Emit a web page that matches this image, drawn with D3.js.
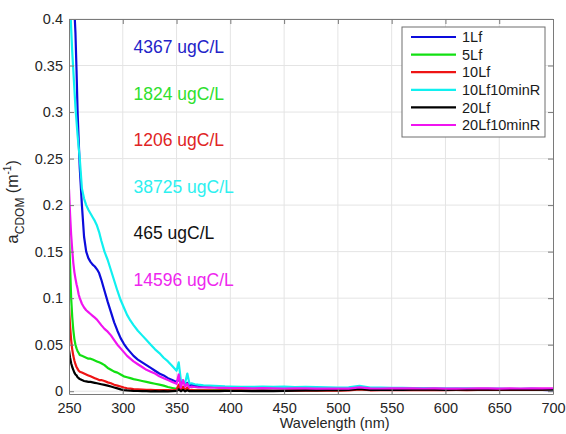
<!DOCTYPE html>
<html>
<head>
<meta charset="utf-8">
<script src="https://cdnjs.cloudflare.com/ajax/libs/d3/7.8.5/d3.min.js"></script>
<style>
body { margin: 0; background: #fff; }
text { font-family: "Liberation Sans", Arial, sans-serif; }
</style>
</head>
<body>
<div id="vis"></div>
<script>
// wavelength grid (nm), shared by every series
var wavelength = [250,251,252,253,254,255,256,257,258,259,260,
    262,264,266,268,270,272,274,276,278,280,
    283,286,289,292,295,298,301,304,307,310,
    314,318,322,326,330,334,338,342,346,
    350,352,354,356,358,360,362,364,
    367,370,375,380,385,390,395,400,
    410,420,430,440,450,460,470,480,490,500,
    510,520,530,540,550,560,570,580,590,600,
    610,620,630,640,650,660,670,680,690,700];

// a_CDOM (1/m)
var a1Lf = [0.62,0.56,0.51,0.47,0.43,0.41,0.385,0.345,0.30,0.27,0.24,
    0.20,0.166,0.150,0.143,0.139,0.136,0.134,0.131,0.127,0.120,
    0.108,0.096,0.085,0.074,0.065,0.057,0.051,0.046,0.042,0.038,
    0.034,0.031,0.028,0.025,0.022,0.019,0.017,0.014,0.012,
    0.010,0.013,0.008,0.011,0.007,0.009,0.0068,0.0065,
    0.006,0.0055,0.005,0.0047,0.0045,0.0043,0.0041,0.004,
    0.0038,0.0036,0.0037,0.0034,0.0035,0.0033,0.0034,0.0031,0.0032,0.0030,
    0.0031,0.0045,0.0030,0.0029,0.0031,0.0028,0.0027,0.0029,0.0026,0.0024,
    0.0025,0.0023,0.0024,0.0022,0.0023,0.0021,0.0020,0.0019,0.0015,0.0008];

var a5Lf = [0.170,0.135,0.100,0.080,0.066,0.056,0.050,0.046,0.043,0.041,0.039,
    0.038,0.037,0.036,0.035,0.035,0.034,0.033,0.032,0.031,0.030,
    0.028,0.025,0.023,0.021,0.020,0.018,0.016,0.015,0.014,0.013,
    0.012,0.011,0.010,0.009,0.008,0.007,0.006,0.0045,0.0035,
    0.0025,0.004,0.0015,0.003,0.0012,0.002,0.0011,0.0012,
    0.0012,0.0011,0.0012,0.0010,0.0011,0.0012,0.0010,0.0011,
    0.0012,0.0010,0.0011,0.0009,0.0010,0.0012,0.0011,0.0010,0.0012,0.0011,
    0.0013,0.0025,0.0014,0.0013,0.0015,0.0014,0.0016,0.0015,0.0014,0.0013,
    0.0015,0.0016,0.0014,0.0015,0.0017,0.0016,0.0015,0.0017,0.0016,0.0018];

var a10Lf = [0.090,0.070,0.055,0.045,0.038,0.033,0.029,0.026,0.024,0.022,0.021,
    0.020,0.019,0.018,0.017,0.016,0.015,0.014,0.013,0.012,0.012,
    0.011,0.0095,0.0085,0.007,0.006,0.005,0.004,0.0032,0.0028,0.0022,
    0.002,0.0018,0.0015,0.0014,0.0012,0.0013,0.0011,0.0012,0.0010,
    0.0015,0.007,0.001,0.005,0.0012,0.004,0.0008,0.0015,
    0.001,0.0009,0.0008,0.0009,0.0007,0.0008,0.0007,0.0008,
    0.0008,0.0006,0.0007,0.0005,0.0006,0.0008,0.0007,0.0006,0.0008,0.0007,
    0.0009,0.0020,0.0010,0.0011,0.0012,0.0011,0.0013,0.0012,0.0011,0.0012,
    0.0013,0.0012,0.0014,0.0013,0.0015,0.0014,0.0016,0.0015,0.0017,0.0018];

var a10Lf10minR = [0.46,0.42,0.39,0.365,0.345,0.325,0.305,0.29,0.275,0.262,0.25,
    0.218,0.207,0.200,0.195,0.191,0.187,0.183,0.178,0.171,0.162,
    0.150,0.141,0.130,0.119,0.108,0.098,0.090,0.082,0.076,0.071,
    0.065,0.060,0.055,0.050,0.045,0.041,0.036,0.032,0.027,
    0.022,0.031,0.012,0.011,0.009,0.019,0.008,0.0085,
    0.0075,0.007,0.0063,0.006,0.0058,0.0056,0.0052,0.005,
    0.0048,0.0046,0.0050,0.0047,0.0049,0.0045,0.0046,0.0043,0.0042,0.0040,
    0.0041,0.0058,0.0040,0.0038,0.0036,0.0035,0.0034,0.0033,0.0032,0.0030,
    0.0029,0.0030,0.0028,0.0027,0.0029,0.0026,0.0025,0.0027,0.0024,0.0020];

var a20Lf = [0.044,0.036,0.030,0.026,0.023,0.020,0.018,0.017,0.015,0.014,0.013,
    0.012,0.011,0.0105,0.010,0.010,0.0095,0.009,0.0085,0.008,0.0075,
    0.0068,0.006,0.005,0.004,0.003,0.002,0.0012,0.0008,0.0005,0.0003,
    0.0002,0.0001,0.0000,-0.0002,0.0000,-0.0001,0.0001,-0.0002,0.0000,
    0.0002,0.002,0.0000,0.0015,-0.0002,0.001,0.0000,0.0002,
    0.0001,0.0002,0.0000,0.0001,0.0002,0.0001,0.0003,0.0002,
    0.0002,0.0000,0.0003,0.0001,0.0004,0.0006,0.0008,0.0010,0.0012,0.0011,
    0.0013,0.0024,0.0014,0.0015,0.0016,0.0014,0.0017,0.0016,0.0018,0.0015,
    0.0017,0.0016,0.0018,0.0017,0.0019,0.0016,0.0018,0.0020,0.0017,0.0019];

var a20Lf10minR = [0.217,0.190,0.168,0.152,0.138,0.128,0.121,0.115,0.110,0.104,0.100,
    0.094,0.090,0.087,0.085,0.083,0.081,0.079,0.077,0.074,0.071,
    0.067,0.064,0.060,0.055,0.050,0.046,0.042,0.038,0.035,0.032,
    0.029,0.026,0.023,0.021,0.019,0.016,0.014,0.012,0.010,
    0.008,0.018,0.004,0.012,0.005,0.008,0.004,0.005,
    0.0045,0.0042,0.004,0.0038,0.0037,0.0036,0.0035,0.0034,
    0.0033,0.0030,0.0034,0.0031,0.0029,0.0032,0.0030,0.0028,0.0029,0.0027,
    0.0028,0.0042,0.0030,0.0029,0.0032,0.0030,0.0031,0.0029,0.0030,0.0028,
    0.0027,0.0029,0.0030,0.0031,0.0028,0.0030,0.0029,0.0031,0.0030,0.0032];

var seriesNames = ["1Lf", "5Lf", "10Lf", "10Lf10minR", "20Lf", "20Lf10minR"];
var seriesValues = [a1Lf, a5Lf, a10Lf, a10Lf10minR, a20Lf, a20Lf10minR];
var seriesColors = ["#0c0cdc", "#12e012", "#ee1414", "#10f0f0", "#000000", "#f014f0"];

// concentration notes
var noteLabels = ["4367 ugC/L", "1824 ugC/L", "1206 ugC/L", "38725 ugC/L", "465 ugC/L", "14596 ugC/L"];
var noteY = [0.37, 0.32, 0.27, 0.22, 0.17, 0.12];
var noteX = 310;
var noteColors = ["#2323c8", "#2ee02e", "#e02424", "#2ef0f0", "#111111", "#ee26ee"];

var xTicks = [250, 300, 350, 400, 450, 500, 550, 600, 650, 700];
var yTicks = [0, 0.05, 0.1, 0.15, 0.2, 0.25, 0.3, 0.35, 0.4];

var margin = {top: 19, right: 13, bottom: 40, left: 69},
    width = 566 - margin.left - margin.right,
    height = 434 - margin.top - margin.bottom;

var axisColor = "#7a7a7a";

var svg = d3.select("#vis")
    .append("svg")
    .attr("width", 566)
    .attr("height", 434);

var g = svg.append("g")
    .attr("transform", "translate(" + margin.left + "," + margin.top + ")");

var x = d3.scaleLinear().domain([250, 700]).range([0, width]);
var y = d3.scaleLinear().domain([-0.003, 0.4]).range([height, 0]);

g.append("clipPath").attr("id", "plotclip")
    .append("rect").attr("width", width).attr("height", height);

////////// grid //////////
g.append("g").selectAll("line").data(xTicks.slice(1, -1)).enter()
    .append("line")
    .attr("x1", x).attr("x2", x)
    .attr("y1", 0).attr("y2", height)
    .attr("stroke", "#e4e4e4");

g.append("g").selectAll("line").data(yTicks).enter()
    .append("line")
    .attr("x1", 0).attr("x2", width)
    .attr("y1", y).attr("y2", y)
    .attr("stroke", "#e4e4e4");

////////// curves //////////
var line = d3.line()
    .x(function (d, i) { return x(wavelength[i]); })
    .y(function (d) { return y(d); });

g.append("g").attr("clip-path", "url(#plotclip)")
    .selectAll("path").data(seriesValues).enter()
    .append("path")
    .attr("d", line)
    .attr("fill", "none")
    .attr("stroke", function (d, i) { return seriesColors[i]; })
    .attr("stroke-width", 2.2)
    .attr("stroke-linejoin", "round");

////////// axes //////////
function styleAxis(sel) {
    sel.select(".domain").attr("stroke", axisColor);
    sel.selectAll(".tick line").attr("stroke", axisColor);
    sel.selectAll(".tick text")
        .attr("fill", "#262626")
        .style("font-size", "14.5px")
        .style("font-family", "'Liberation Sans', Arial, sans-serif");
}

g.append("g")
    .attr("transform", "translate(0," + height + ")")
    .call(d3.axisBottom(x).tickValues(xTicks).tickSizeInner(-5).tickSizeOuter(0).tickPadding(9))
    .call(styleAxis);

g.append("g")
    .call(d3.axisTop(x).tickValues(xTicks).tickSizeInner(-5).tickSizeOuter(0).tickFormat(""))
    .call(styleAxis);

g.append("g")
    .call(d3.axisLeft(y).tickValues(yTicks).tickSizeInner(-5).tickSizeOuter(0).tickPadding(6)
        .tickFormat(function (d) { return String(d); }))
    .call(styleAxis);

g.append("g")
    .attr("transform", "translate(" + width + ",0)")
    .call(d3.axisRight(y).tickValues(yTicks).tickSizeInner(-5).tickSizeOuter(0).tickFormat(""))
    .call(styleAxis);

////////// labels //////////
svg.append("text")
    .attr("x", margin.left + x(497))
    .attr("y", 428)
    .attr("text-anchor", "middle")
    .attr("fill", "#262626")
    .style("font-size", "14.5px")
    .text("Wavelength (nm)");

var ylab = svg.append("text")
    .attr("transform", "translate(18,202) rotate(-90)")
    .attr("text-anchor", "middle")
    .attr("fill", "#262626")
    .style("font-size", "16px");
ylab.append("tspan").style("font-size", "17px").text("a");
ylab.append("tspan").attr("dy", 6).style("font-size", "12px").text("CDOM");
ylab.append("tspan").attr("dy", -6).text(" (m");
ylab.append("tspan").attr("dy", -7).style("font-size", "10px").text("-1");
ylab.append("tspan").attr("dy", 7).text(")");

////////// notes //////////
g.append("g").selectAll("text").data(noteLabels).enter()
    .append("text")
    .attr("x", x(noteX))
    .attr("y", function (d, i) { return y(noteY[i]); })
    .attr("dy", "0.36em")
    .attr("fill", function (d, i) { return noteColors[i]; })
    .style("font-size", "17.5px")
    .text(function (d) { return d; });

////////// legend //////////
var legend = svg.append("g").attr("transform", "translate(402,27)");

legend.append("rect")
    .attr("width", 143).attr("height", 110)
    .attr("fill", "#fff")
    .attr("stroke", "#6e6e6e");

var entry = legend.selectAll("g.entry").data(seriesNames).enter()
    .append("g")
    .attr("class", "entry")
    .attr("transform", function (d, i) { return "translate(0," + (10 + i * 17.6) + ")"; });

entry.append("line")
    .attr("x1", 9).attr("x2", 54)
    .attr("stroke", function (d, i) { return seriesColors[i]; })
    .attr("stroke-width", 2.2);

entry.append("text")
    .attr("x", 60)
    .attr("dy", "0.36em")
    .attr("fill", "#1a1a1a")
    .style("font-size", "14.5px")
    .text(function (d) { return d; });
</script>
</body>
</html>
